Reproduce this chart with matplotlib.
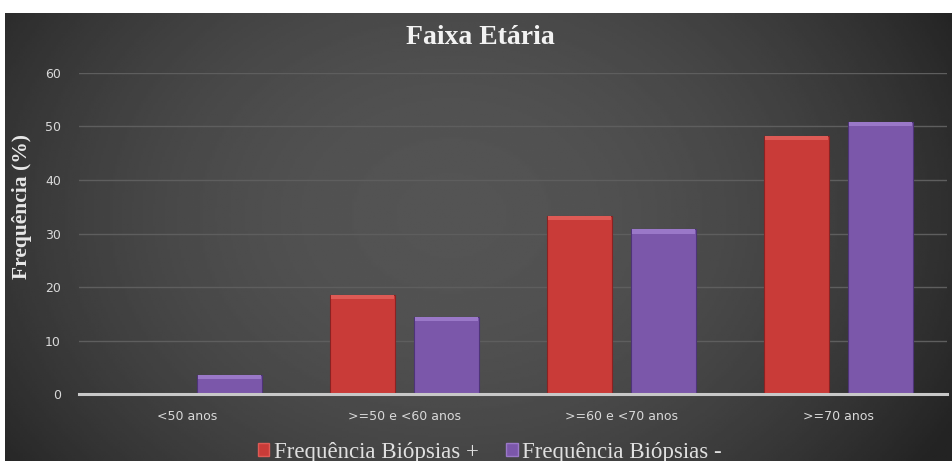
import matplotlib
matplotlib.use('Agg')
import matplotlib.pyplot as plt
import numpy as np
from matplotlib.patches import Patch

# dados
categorias = ['<50 anos', '>=50 e <60 anos', '>=60 e <70 anos', '>=70 anos']
biopsias_pos = [0.0, 18.5, 33.3, 48.2]
biopsias_neg = [3.6, 14.4, 30.8, 50.8]
yticks = [0, 10, 20, 30, 40, 50, 60]

cor_pos = '#c93b38'
cor_neg = '#7b57aa'
cor_pos_top = '#de5a55'
cor_neg_top = '#9a78c8'

fig = plt.figure(figsize=(9.52, 4.61), dpi=100)
fig.patch.set_facecolor('white')

# fundo escuro com degradê
bg = fig.add_axes([5 / 952, 0, 947 / 952, 448 / 461])
ny, nx = 200, 400
yy, xx = np.mgrid[0:ny, 0:nx]
xn = (xx - nx * 0.47) / (nx * 0.55)
yn = (yy - ny * 0.45) / (ny * 0.9)
r2 = xn ** 2 + yn ** 2
val = 0.33 - 0.16 * r2
val = np.clip(val, 0.14, 0.34)
bg.imshow(val, cmap='gray', vmin=0, vmax=1, aspect='auto', extent=[0, 1, 0, 1])
bg.set_axis_off()

ax = fig.add_axes([79 / 952, 1 - 394.3 / 461, 868 / 952, (394.3 - 72.7) / 461])
ax.set_facecolor('none')

x = np.arange(len(categorias))
w = 0.30
off = 0.195
ax.bar(x - off, biopsias_pos, w, color=cor_pos, edgecolor='#8a2222', linewidth=0.8, zorder=3)
ax.bar(x + off, biopsias_neg, w, color=cor_neg, edgecolor='#4e3478', linewidth=0.8, zorder=3)
# bisel superior
bev = 0.8
ax.bar(x - off, [bev if v > 0 else 0 for v in biopsias_pos], w * 0.97,
       bottom=[v - bev for v in biopsias_pos], color=cor_pos_top, linewidth=0, zorder=4)
ax.bar(x + off, [bev if v > 0 else 0 for v in biopsias_neg], w * 0.97,
       bottom=[v - bev for v in biopsias_neg], color=cor_neg_top, linewidth=0, zorder=4)

ax.set_xlim(-0.5, 3.5)
ax.set_ylim(0, 60)
ax.set_yticks(yticks)
ax.yaxis.grid(True, color='#5e5e5e', linewidth=1.0, zorder=0)
ax.set_axisbelow(True)
for s in ['top', 'right', 'left']:
    ax.spines[s].set_visible(False)
ax.spines['bottom'].set_color('#c8c8c8')
ax.spines['bottom'].set_linewidth(2.2)
ax.spines['bottom'].set_zorder(5)
ax.tick_params(axis='both', length=0, colors='#d9d9d9', labelsize=9)
ax.tick_params(axis='y', pad=13)
ax.tick_params(axis='x', pad=11)
ax.set_xticks(x)
ax.set_xticklabels(categorias)

fig.text(480 / 952, 1 - 38 / 461, 'Faixa Etária', ha='center', va='center', color='#f2f2f2',
         fontsize=20, fontweight='bold', family='Liberation Serif')
fig.text(22 / 952, 1 - 206 / 461, 'Frequência (%)', ha='center', va='center', rotation=90,
         color='#e8e8e8', fontsize=15.5, fontweight='bold', family='Liberation Serif')

handles = [Patch(facecolor=cor_pos, edgecolor=cor_pos_top), Patch(facecolor=cor_neg, edgecolor=cor_neg_top)]
leg = fig.legend(handles, ['Frequência Biópsias +', 'Frequência Biópsias -'], ncol=2,
                 loc='center left', bbox_to_anchor=(258 / 952, 9 / 461), frameon=False,
                 prop={'family': 'Liberation Serif', 'size': 16.5}, borderpad=0, borderaxespad=0,
                 handlelength=0.5, handleheight=0.5, handletextpad=0.2, columnspacing=1.2)
for t in leg.get_texts():
    t.set_color('#e0e0e0')

fig.savefig('out.png', dpi=100, facecolor=fig.get_facecolor())
